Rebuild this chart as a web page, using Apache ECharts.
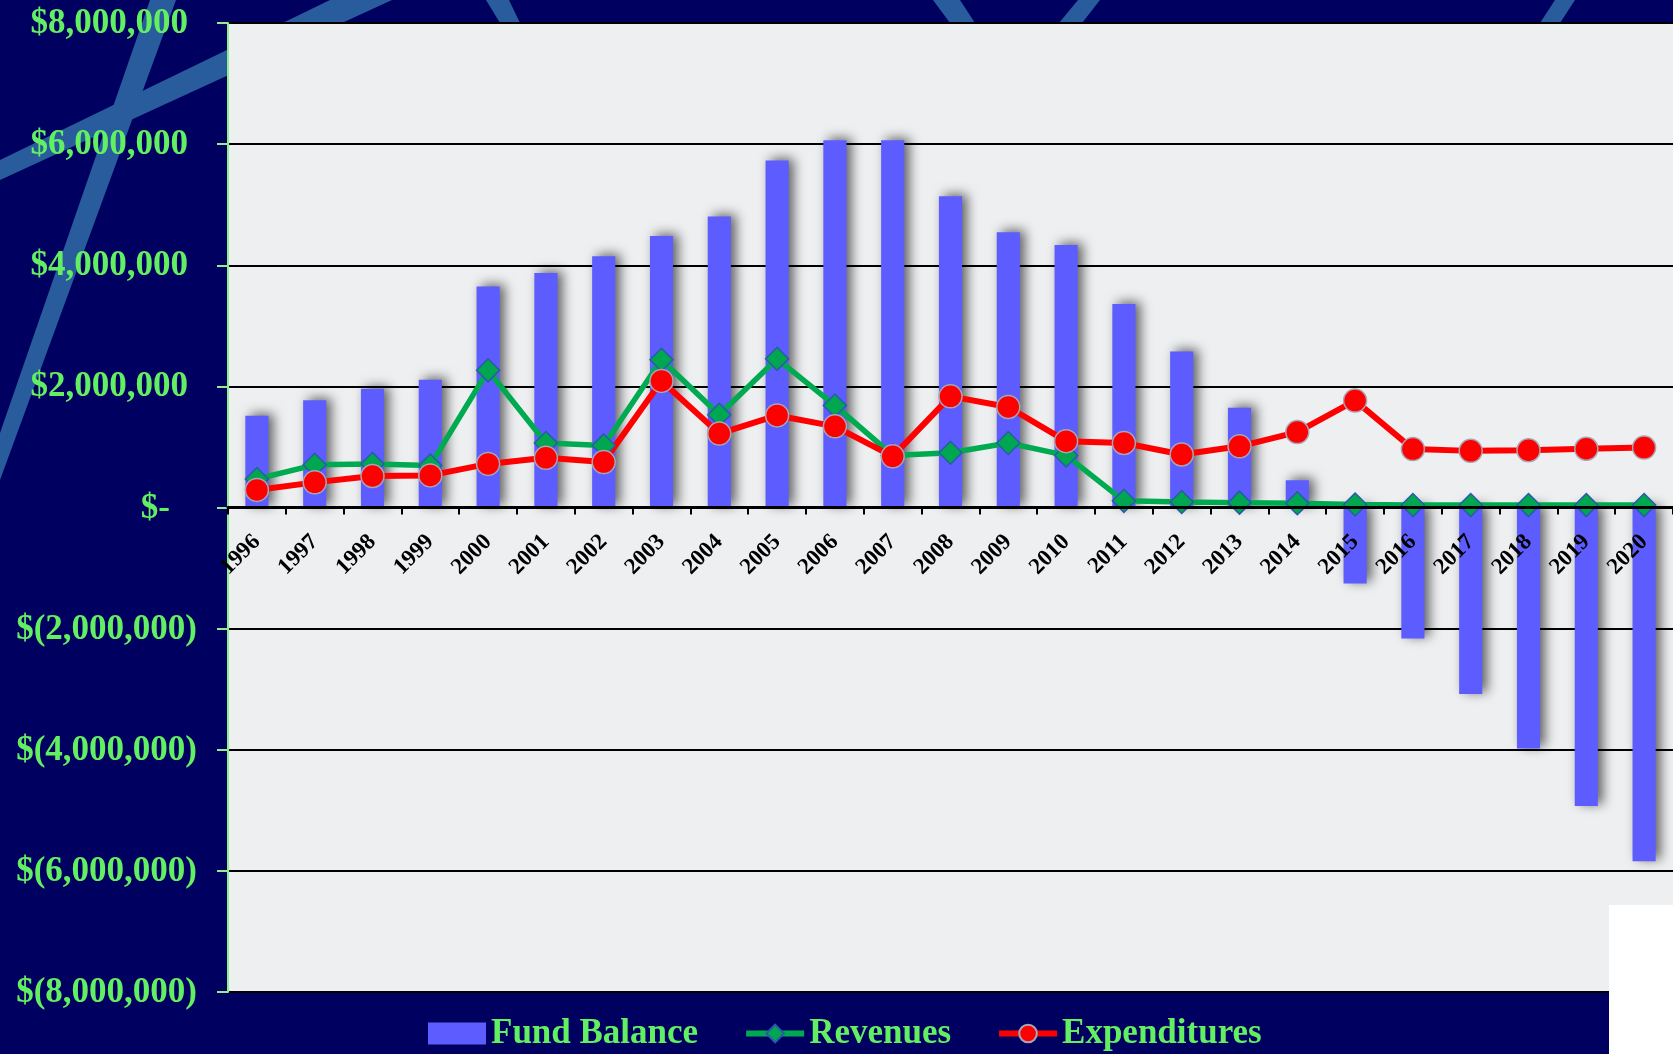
<!DOCTYPE html>
<html>
<head>
<meta charset="utf-8">
<script src="https://cdn.jsdelivr.net/npm/echarts@6/dist/echarts.min.js"></script>
<style>
  html, body { margin: 0; padding: 0; background: #000060; }
  #chart { width: 1673px; height: 1054px; }
</style>
</head>
<body>
<div id="chart"></div>
<script>
// 年份
const years = ['1996', '1997', '1998', '1999', '2000', '2001', '2002', '2003', '2004', '2005',
  '2006', '2007', '2008', '2009', '2010', '2011', '2012', '2013', '2014', '2015',
  '2016', '2017', '2018', '2019', '2020'];
// 基金余额
const fundBalance = [1515000, 1770000, 1960000, 2110000, 3650000, 3870000, 4150000, 4485000, 4805000, 5730000,
  6065000, 6065000, 5140000, 4545000, 4335000, 3360000, 2575000, 1645000, 450000, -1255000,
  -2165000, -3080000, -3980000, -4930000, -5840000];
// 收入
const revenues = [470000, 705000, 720000, 695000, 2265000, 1065000, 1025000, 2440000, 1530000, 2455000,
  1685000, 860000, 905000, 1065000, 860000, 110000, 90000, 80000, 70000, 50000,
  40000, 40000, 40000, 40000, 40000];
// 支出
const expenditures = [290000, 415000, 520000, 530000, 720000, 820000, 750000, 2090000, 1220000, 1520000,
  1340000, 845000, 1835000, 1660000, 1095000, 1065000, 875000, 1010000, 1245000, 1765000,
  965000, 935000, 945000, 970000, 990000];

const green = '#62F062';
const serif = '"Liberation Serif", "Times New Roman", serif';

// 会计格式的金额标签
const money = (v) => {
  const s = String(Math.abs(v)).replace(/\B(?=(\d{3})+(?!\d))/g, ',');
  if (v > 0) return '{p|$' + s + '}';
  if (v === 0) return '{z|$-}';
  return '{n|$(' + s + ')}';
};
const labelFont = { fontFamily: serif, fontSize: 35, fontWeight: 'bold', color: green };

// 网格位置
const gridTop = 23;
const gridBottom = 62;
const plotH = 1054 - gridTop - gridBottom;

const stripe = '#285C9C';
const option = {
  animation: false,
  backgroundColor: '#000060',
  graphic: [
    { type: 'polygon', z: -10, shape: { points: [[150, 0], [176, 0], [0, 480], [0, 433]] }, style: { fill: stripe } },
    { type: 'polygon', z: -10, shape: { points: [[0, 160], [330, 0], [392, 0], [0, 180]] }, style: { fill: stripe } },
    { type: 'polygon', z: -10, shape: { points: [[486, 0], [509, 0], [520, 23], [500, 23]] }, style: { fill: stripe } },
    { type: 'polygon', z: -10, shape: { points: [[933, 0], [960, 0], [975, 23], [950, 23]] }, style: { fill: stripe } },
    { type: 'polygon', z: -10, shape: { points: [[1078, 0], [1100, 0], [1082, 23], [1059, 23]] }, style: { fill: stripe } },
    { type: 'polygon', z: -10, shape: { points: [[1555, 0], [1575, 0], [1560, 23], [1540, 23]] }, style: { fill: stripe } },
    { type: 'rect', z: 100, shape: { x: 1609, y: 905, width: 64, height: 149 }, style: { fill: '#ffffff' } }
  ],
  legend: {
    left: 423,
    top: 1011,
    itemWidth: 58,
    itemHeight: 22,
    itemGap: 45,
    lineStyle: { width: 6 },
    textStyle: { fontFamily: serif, fontSize: 35, fontWeight: 'bold', color: green },
    data: [
      { name: 'Fund Balance', icon: 'rect' },
      { name: 'Revenues' },
      { name: 'Expenditures' }
    ]
  },
  grid: {
    left: 228,
    right: 0,
    top: gridTop,
    bottom: gridBottom,
    show: true,
    backgroundColor: '#EEEFF1',
    borderWidth: 0
  },
  xAxis: {
    type: 'category',
    data: years,
    z: 10,
    // 轴放在零线处
    offset: -plotH / 2,
    axisLine: { onZero: false, lineStyle: { color: '#000', width: 3 } },
    axisTick: { show: true, length: 7, lineStyle: { color: '#000', width: 2 } },
    axisLabel: {
      interval: 0,
      rotate: 45,
      margin: 31,
      color: '#000',
      fontFamily: serif,
      fontSize: 23,
      fontWeight: 'bold'
    },
    splitLine: { show: false }
  },
  yAxis: {
    type: 'value',
    min: -8000000,
    max: 8000000,
    interval: 2000000,
    axisLine: { show: true, lineStyle: { color: '#8CF08C', width: 2 } },
    axisTick: { show: true, length: 11, lineStyle: { color: '#8CF08C', width: 2 } },
    axisLabel: {
      margin: 31,
      formatter: money,
      ...labelFont,
      rich: {
        p: { ...labelFont, padding: [2, 9, 0, 0] },
        z: { ...labelFont, padding: [2, 27, 0, 0] },
        n: { ...labelFont, padding: [2, 0, 0, 0] }
      }
    },
    splitLine: { show: true, lineStyle: { color: '#000', width: 2 } }
  },
  series: [
    {
      name: 'Fund Balance',
      type: 'bar',
      data: fundBalance,
      barWidth: '40%',
      itemStyle: {
        color: '#5D5DFF',
        shadowColor: 'rgba(0,0,0,0.6)',
        shadowBlur: 12,
        shadowOffsetX: 5,
        shadowOffsetY: -2
      }
    },
    {
      name: 'Revenues',
      type: 'line',
      data: revenues,
      symbol: 'diamond',
      symbolSize: 23,
      showAllSymbol: true,
      lineStyle: { color: '#00AA50', width: 5.5 },
      itemStyle: { color: '#00A650', borderColor: '#2B5BA8', borderWidth: 1.5 }
    },
    {
      name: 'Expenditures',
      type: 'line',
      data: expenditures,
      symbol: 'circle',
      symbolSize: 23,
      showAllSymbol: true,
      lineStyle: { color: '#FF0000', width: 6 },
      itemStyle: { color: '#FF0000', borderColor: '#A6A6B8', borderWidth: 1.5 }
    }
  ]
};

const chart = echarts.init(document.getElementById('chart'));
chart.setOption(option);
</script>
</body>
</html>
